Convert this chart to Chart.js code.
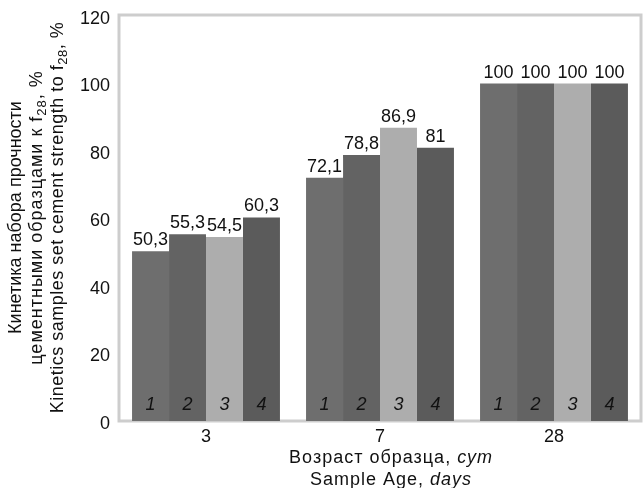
<!DOCTYPE html>
<html>
<head>
<meta charset="utf-8">
<script src="https://cdn.jsdelivr.net/npm/chart.js@4/dist/chart.umd.min.js"></script>
<style>
    html, body { margin: 0; padding: 0; background: #fff; }
</style>
</head>
<body>
<canvas id="chart" width="643" height="488"></canvas>
<script>
// data
const ages = ['3', '7', '28'];
const sampleNames = ['1', '2', '3', '4'];
const sample1 = [50.3, 72.1, 100];
const sample2 = [55.3, 78.8, 100];
const sample3 = [54.5, 86.9, 100];
const sample4 = [60.3, 81, 100];
const yTicks = [0, 20, 40, 60, 80, 100, 120];

// title pieces: [text, style]  n = normal, i = italic, s = subscript
const yTitle = [
    [['Кинетика набора прочности', 'n']],
    [['цементными образцами к f', 'n'], ['28', 's'], [', %', 'n']],
    [['Kinetics samples set cement strength to f', 'n'], ['28', 's'], [', %', 'n']]
];
const xTitle = [
    [['Возраст образца, ', 'n'], ['сут', 'i']],
    [['Sample Age, ', 'n'], ['days', 'i']]
];

const FONT = "'Liberation Sans', Arial, sans-serif";
const barColors = ['#6e6e6e', '#636363', '#adadad', '#5b5b5b'];

const Plot = (() => {
    const _font = function (size, italic) {
        return (italic ? 'italic ' : '') + size + 'px ' + FONT;
    };

    // draws one line of mixed text centred on cx, baseline at 0
    const _drawParts = function (ctx, parts, cx, size, spacing) {
        ctx.letterSpacing = spacing + 'px';
        const fontOf = p => _font(p[1] === 's' ? Math.round(size * 0.7) : size, p[1] === 'i');
        let total = 0;
        parts.forEach(p => {
            ctx.font = fontOf(p);
            total += ctx.measureText(p[0]).width;
        });
        let x = cx - total / 2;
        parts.forEach(p => {
            ctx.font = fontOf(p);
            ctx.fillText(p[0], x, p[1] === 's' ? 4 : 0);
            x += ctx.measureText(p[0]).width;
        });
        ctx.letterSpacing = '0px';
    };

    // grey box round the plot area
    const _frame = {
        id: 'frame',
        beforeDatasetsDraw(chart) {
            const { ctx, chartArea: a } = chart;
            ctx.save();
            ctx.strokeStyle = '#cdcdcd';
            ctx.lineWidth = 3;
            ctx.strokeRect(a.left, a.top - 1, a.right - a.left, a.bottom - a.top + 1);
            ctx.restore();
        }
    };

    // value on top of every bar, sample number at its foot
    const _labels = {
        id: 'labels',
        afterDatasetsDraw(chart) {
            const ctx = chart.ctx;
            ctx.save();
            chart.data.datasets.forEach((ds, i) => {
                chart.getDatasetMeta(i).data.forEach((bar, j) => {
                    const txt = String(ds.data[j]).replace('.', ',');
                    ctx.font = _font(18, false);
                    const w = ctx.measureText(txt).width;
                    ctx.fillStyle = '#fff';
                    ctx.fillRect(bar.x - w / 2 - 1, bar.y - 20, w + 2, 19);
                    ctx.fillStyle = '#111';
                    ctx.textAlign = 'center';
                    ctx.textBaseline = 'alphabetic';
                    ctx.fillText(txt, bar.x, bar.y - 6);

                    ctx.font = _font(18, true);
                    ctx.textBaseline = 'middle';
                    ctx.fillText(ds.label, bar.x, bar.base - 16);
                });
            });
            ctx.restore();
        }
    };

    // both axis titles have italics / subscripts, so they are drawn by hand
    const _titles = {
        id: 'titles',
        afterDraw(chart) {
            const ctx = chart.ctx;
            const a = chart.chartArea;
            ctx.save();
            ctx.fillStyle = '#111';
            ctx.textAlign = 'left';
            ctx.textBaseline = 'alphabetic';

            const xBase = [463, 485];
            xTitle.forEach((parts, k) => {
                ctx.save();
                ctx.translate(0, xBase[k]);
                _drawParts(ctx, parts, (a.left + a.right) / 2 + 11, 18, 1);
                ctx.restore();
            });

            const yBase = [21, 42, 63];
            const ySpacing = [0, 1, 0.5];
            yTitle.forEach((parts, k) => {
                ctx.save();
                ctx.translate(yBase[k], (a.top + a.bottom) / 2 - 1);
                ctx.rotate(-Math.PI / 2);
                _drawParts(ctx, parts, 0, 18, ySpacing[k]);
                ctx.restore();
            });
            ctx.restore();
        }
    };

    const init = function (canvas) {
        const series = [sample1, sample2, sample3, sample4];
        return new Chart(canvas, {
            type: 'bar',
            data: {
                labels: ages,
                datasets: series.map((s, i) => ({
                    label: sampleNames[i],
                    data: s,
                    backgroundColor: barColors[i],
                    borderWidth: 0,
                    categoryPercentage: 0.85,
                    barPercentage: 1.0
                }))
            },
            options: {
                responsive: false,
                animation: false,
                layout: { padding: { left: 9, top: 16, right: 2, bottom: 0 } },
                plugins: {
                    legend: { display: false },
                    tooltip: { enabled: false }
                },
                scales: {
                    x: {
                        grid: { display: false, drawTicks: false },
                        border: { display: false },
                        ticks: { color: '#111', font: { family: FONT, size: 18 }, padding: 5 },
                        afterFit(scale) { scale.height = 67; }
                    },
                    y: {
                        min: 0,
                        max: 120,
                        afterBuildTicks(scale) { scale.ticks = yTicks.map(v => ({ value: v })); },
                        grid: { display: false, drawTicks: false },
                        border: { display: false },
                        ticks: { color: '#111', font: { family: FONT, size: 18 }, padding: 9, labelOffset: 3 },
                        afterFit(scale) {
                            scale.width = 110;
                            scale.paddingTop = 0;
                            scale.paddingBottom = 0;
                        }
                    }
                }
            },
            plugins: [_frame, _labels, _titles]
        });
    };

    return { init };
})();

Plot.init(document.getElementById('chart'));
</script>
</body>
</html>
